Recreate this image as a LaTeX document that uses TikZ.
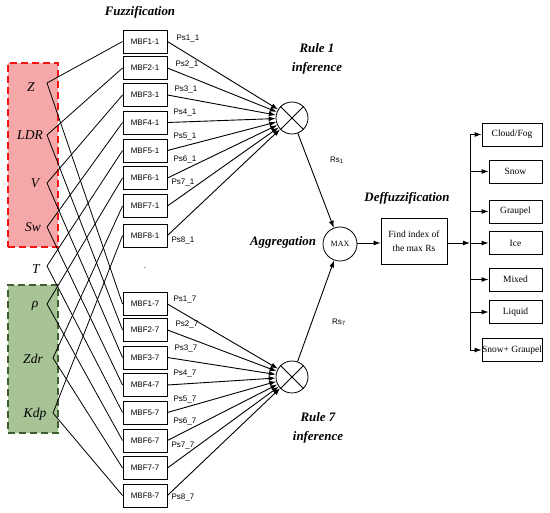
\documentclass[tikz,border=0pt]{standalone}
\usepackage{fontspec}
\setmainfont{Liberation Serif}
\newfontfamily\arialf{Liberation Sans}
\usetikzlibrary{arrows.meta}
\definecolor{redfill}{RGB}{246,168,168}
\definecolor{redline}{RGB}{245,20,20}
\definecolor{greenfill}{RGB}{168,196,150}
\definecolor{greenline}{RGB}{60,95,45}
\begin{document}
\begin{tikzpicture}[x=1pt,y=-1pt,
 mbf/.style={draw, line width=0.9pt, minimum width=44pt, minimum height=23pt, inner sep=0pt, font=\arialf\fontsize{8}{9}\selectfont},
 pslbl/.style={font=\arialf\fontsize{8}{9}\selectfont, inner sep=0pt},
 ttl/.style={font=\bfseries\itshape\fontsize{12.9}{16}\selectfont, inner sep=0pt},
 var/.style={font=\itshape\fontsize{13.5}{16}\selectfont, inner sep=0pt},
 outbox/.style={draw, line width=0.9pt, minimum height=23pt, inner sep=0pt, font=\fontsize{9.5}{11}\selectfont},
 mult/.style={draw, circle, minimum size=32pt, inner sep=0pt, line width=0.8pt},
 arr/.style={-{Latex[length=7pt,width=5pt]}, line width=0.9pt},
 wire/.style={line width=0.8pt},
 redgroup/.style={draw=redline, fill=redfill, dashed, dash pattern=on 7pt off 4pt, line width=1.8pt, minimum width=50pt, inner sep=0pt},
 greengroup/.style={draw=greenline, fill=greenfill, dashed, dash pattern=on 7pt off 4pt, line width=1.8pt, minimum width=50pt, inner sep=0pt}]
\useasboundingbox (0,0) rectangle (550,513);

% group backgrounds
\node[redgroup, minimum height=184pt] (grpA) at (33,155) {};
\node[greengroup, minimum height=148pt] (grpB) at (33,359) {};

% titles
\node[ttl] (tFuz) at (140,12) {Fuzzification};
\node[ttl] (tR1a) at (317,48) {Rule 1};
\node[ttl] (tR1b) at (317,68) {inference};
\node[ttl] (tAgg) at (283,242) {Aggregation};
\node[ttl] (tDef) at (407,198) {Deffuzzification};
\node[ttl] (tR7a) at (318,417) {Rule 7};
\node[ttl] (tR7b) at (318,437) {inference};
\node[pslbl] (dot) at (145,268) {.};

% variables
\node[var] (vZ) at (31,87) {Z};
\node[var] (vLDR) at (30,135) {LDR};
\node[var] (vV) at (35,183) {V};
\node[var] (vSw) at (33,227) {Sw};
\node[var] (vT) at (36,269) {T};
\node[var] (vRho) at (35,306) {ρ};
\node[var] (vZdr) at (33,359) {Zdr};
\node[var] (vKdp) at (35,414) {Kdp};
\coordinate (p1) at (47,83);
\coordinate (p2) at (47,135);
\coordinate (p3) at (47,183);
\coordinate (p4) at (47,227);
\coordinate (p5) at (47,266);
\coordinate (p6) at (47,304);
\coordinate (p7) at (53,358);
\coordinate (p8) at (53,413);

% membership boxes
\foreach \i/\y in {1/41.5,2/68,3/95,4/122.5,5/150.5,6/178,7/206,8/235.5}
  \node[mbf] (m\i a) at (145,\y) {MBF\i-1};
\foreach \i/\y in {1/304,2/330,3/357.5,4/385,5/412.5,6/440.5,7/468,8/495.5}
  \node[mbf] (m\i b) at (145,\y) {MBF\i-7};

% wires from variables
\foreach \i in {1,...,8}
  \draw[wire] (m\i a.west) -- (p\i) -- (m\i b.west);

% rule circles
\node[mult] (c1) at (292,118) {};
\node[mult] (c7) at (292,377) {};
\draw[line width=0.8pt] (c1.north west) -- (c1.south east) (c1.north east) -- (c1.south west);
\draw[line width=0.8pt] (c7.north west) -- (c7.south east) (c7.north east) -- (c7.south west);

% arrows to rule circles
\foreach \i in {1,...,8} {
  \draw[arr] (m\i a.east) -- (c1);
  \draw[arr] (m\i b.east) -- (c7);
}

% Ps labels
\foreach \i/\x/\y in {1/188/39,2/187/65,3/186/90,4/185/113,5/185/137,6/185/160,7/183/183,8/183/241}
  \node[pslbl] (ps\i a) at (\x,\y) {Ps\i\_1};
\foreach \i/\x/\y in {1/185/300,2/187/325,3/186/349,4/185/374,5/185/400,6/185/422,7/183/446,8/183/498}
  \node[pslbl] (ps\i b) at (\x,\y) {Ps\i\_7};

% aggregation
\node[draw, circle, minimum size=34pt, inner sep=0pt, line width=0.8pt, font=\fontsize{8}{9}\selectfont] (max) at (340,244) {MAX};
\draw[arr] (c1) -- (max);
\draw[arr] (c7) -- (max);
\node[pslbl] (rs1) at (337,160) {Rs\textsubscript{1}};
\node[pslbl] (rs7) at (339,322) {Rs\textsubscript{7}};

% defuzzification
\node[draw, line width=0.9pt, minimum width=66pt, minimum height=46pt, inner sep=0pt, align=center, font=\fontsize{9.5}{14}\selectfont] (find) at (414,241) {Find index of\\the max Rs};
\draw[arr] (max.east |- 0,243) -- (find.west |- 0,243);
\coordinate (bus) at (470,243);
\draw[arr] (find.east |- bus) -- (bus);

% outputs
\node[outbox, minimum width=60pt] (o1) at (512,134.5) {Cloud/Fog};
\node[outbox, minimum width=53pt] (o2) at (515.5,171.5) {Snow};
\node[outbox, minimum width=53pt] (o3) at (515.5,211.5) {Graupel};
\node[outbox, minimum width=53pt] (o4) at (515.5,243) {Ice};
\node[outbox, minimum width=53pt] (o5) at (515.5,279.5) {Mixed};
\node[outbox, minimum width=53pt] (o6) at (515.5,312) {Liquid};
\node[outbox, minimum width=60pt] (o7) at (512,350) {Snow+ Graupel};
\draw[line width=0.9pt] (bus |- o1.west) -- (bus |- o7.west);
\foreach \k in {1,...,7}
  \draw[arr] (bus |- o\k.west) -- (o\k.west);
\end{tikzpicture}
\end{document}
